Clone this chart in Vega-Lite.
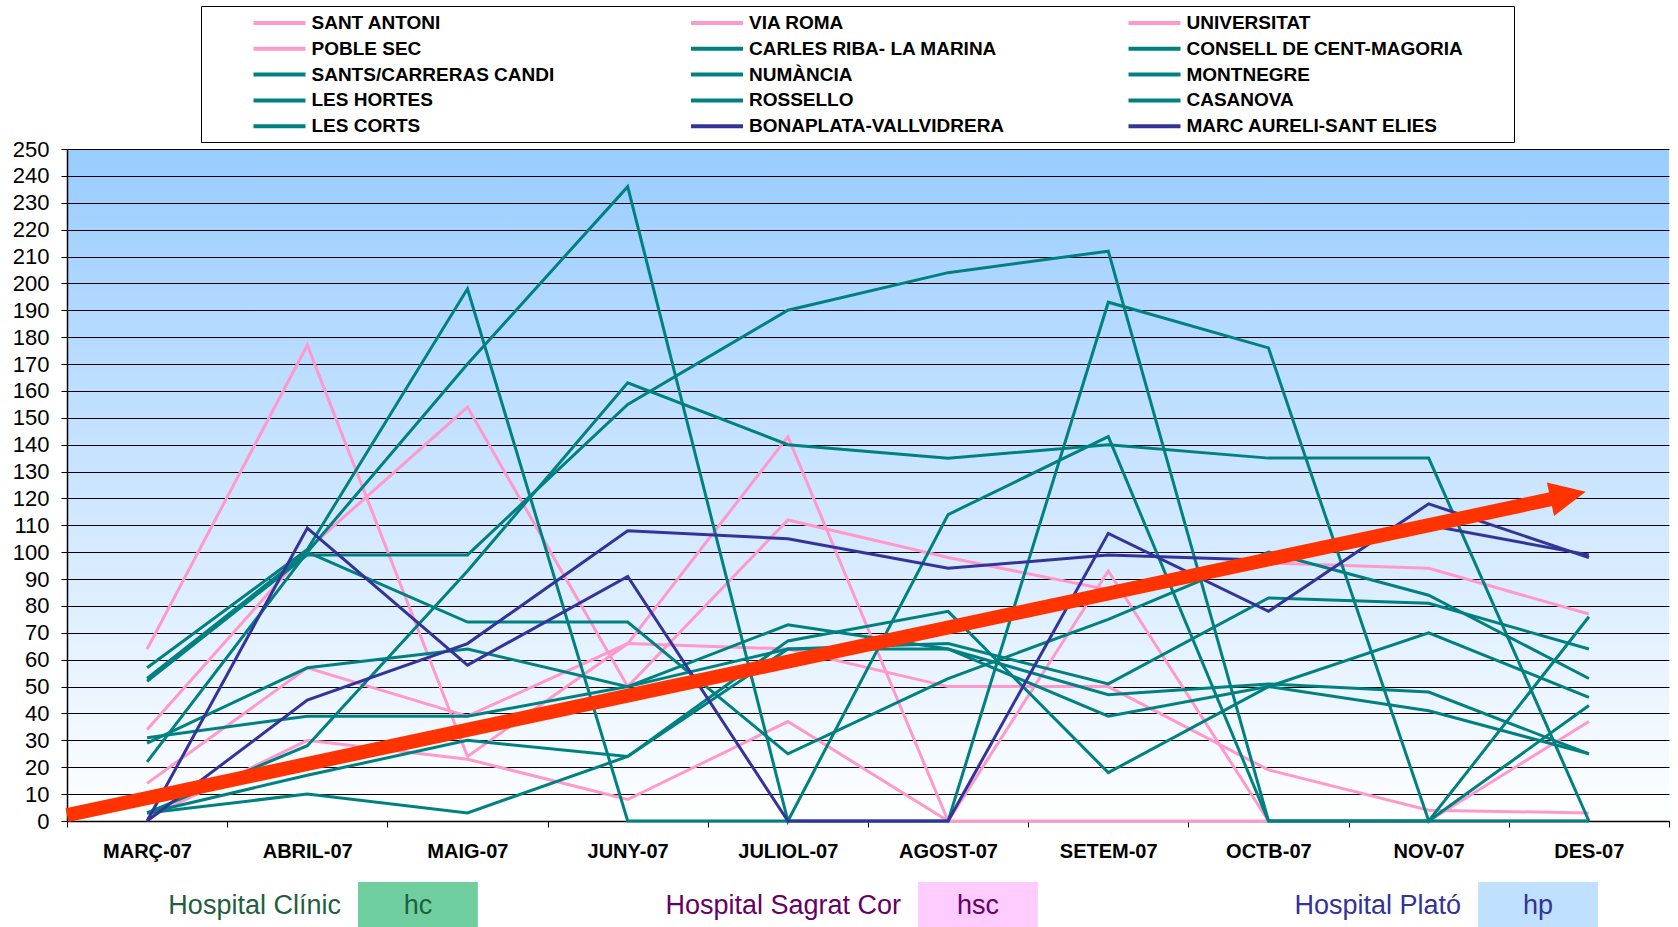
{
  "$schema": "https://vega.github.io/schema/vega-lite/v6.json",
  "autosize": {"type": "pad"},
  "padding": {"left": 12, "top": 5, "right": 8, "bottom": 0},
  "background": "white",
  "bounds": "flush",
  "spacing": 61,
  "config": {
    "view": {"stroke": null},
    "font": "Liberation Sans"
  },
  "resolve": {"scale": {"color": "independent", "fill": "independent", "x": "independent"}, "legend": {"color": "independent"}},
  "vconcat": [
    {
      "width": 1602,
      "height": 672,
      "view": {
        "stroke": null,
        "fill": {"gradient": "linear", "x1": 0, "y1": 0, "x2": 0, "y2": 1, "stops": [{"offset": 0, "color": "#99ccff"}, {"offset": 1, "color": "#ffffff"}]}
      },
      "encoding": {
        "x": {
          "field": "m", "type": "quantitative",
          "scale": {"domain": [-0.5, 9.5], "nice": false, "zero": false},
          "axis": {
            "title": null, "grid": false,
            "values": [-0.5, 0.5, 1.5, 2.5, 3.5, 4.5, 5.5, 6.5, 7.5, 8.5, 9.5],
            "labelExpr": "['MARÇ-07','ABRIL-07','MAIG-07','JUNY-07','JULIOL-07','AGOST-07','SETEM-07','OCTB-07','NOV-07','DES-07'][round(datum.value + 0.5)] || ''",
            "labelOffset": 80,
            "labelFlush": false,
            "labelOverlap": false,
            "labelFont": "Liberation Sans",
            "labelFontSize": 20,
            "labelFontWeight": "bold",
            "labelColor": "#000000",
            "labelPadding": 14,
            "tickSize": 6,
            "tickColor": "#000000",
            "domainColor": "#000000",
            "domainWidth": 1.5
          }
        },
        "y": {
          "field": "v", "type": "quantitative",
          "scale": {"domain": [0, 250], "nice": false},
          "axis": {
            "title": null,
            "values": [0,10,20,30,40,50,60,70,80,90,100,110,120,130,140,150,160,170,180,190,200,210,220,230,240,250],
            "labelOverlap": false,
            "labelFlush": false,
            "grid": true, "gridColor": "#000000", "gridWidth": 1.2,
            "labelFont": "Liberation Sans", "labelFontSize": 22, "labelColor": "#000000",
            "labelPadding": 12, "tickSize": 6, "tickColor": "#000000",
            "domainColor": "#000000", "domainWidth": 1.5
          }
        }
      },
      "layer": [
        {
          "data": {"values": [
            {"s":"SANT ANTONI","m":0,"v":64},{"s":"SANT ANTONI","m":1,"v":177},{"s":"SANT ANTONI","m":2,"v":24},{"s":"SANT ANTONI","m":3,"v":66},{"s":"SANT ANTONI","m":4,"v":143},{"s":"SANT ANTONI","m":5,"v":0},{"s":"SANT ANTONI","m":6,"v":93},{"s":"SANT ANTONI","m":7,"v":0},{"s":"SANT ANTONI","m":8,"v":0},{"s":"SANT ANTONI","m":9,"v":37},
            {"s":"VIA ROMA","m":0,"v":34},{"s":"VIA ROMA","m":1,"v":101},{"s":"VIA ROMA","m":2,"v":154},{"s":"VIA ROMA","m":3,"v":50},{"s":"VIA ROMA","m":4,"v":112},{"s":"VIA ROMA","m":5,"v":98},{"s":"VIA ROMA","m":6,"v":86},{"s":"VIA ROMA","m":7,"v":96},{"s":"VIA ROMA","m":8,"v":94},{"s":"VIA ROMA","m":9,"v":77},
            {"s":"UNIVERSITAT","m":0,"v":14},{"s":"UNIVERSITAT","m":1,"v":57},{"s":"UNIVERSITAT","m":2,"v":39},{"s":"UNIVERSITAT","m":3,"v":66},{"s":"UNIVERSITAT","m":4,"v":64},{"s":"UNIVERSITAT","m":5,"v":50},{"s":"UNIVERSITAT","m":6,"v":50},{"s":"UNIVERSITAT","m":7,"v":19},{"s":"UNIVERSITAT","m":8,"v":4},{"s":"UNIVERSITAT","m":9,"v":3},
            {"s":"POBLE SEC","m":0,"v":1},{"s":"POBLE SEC","m":1,"v":30},{"s":"POBLE SEC","m":2,"v":23},{"s":"POBLE SEC","m":3,"v":8},{"s":"POBLE SEC","m":4,"v":37},{"s":"POBLE SEC","m":5,"v":0},{"s":"POBLE SEC","m":6,"v":0},{"s":"POBLE SEC","m":7,"v":0},{"s":"POBLE SEC","m":8,"v":0},{"s":"POBLE SEC","m":9,"v":0},
            {"s":"CARLES RIBA- LA MARINA","m":0,"v":57},{"s":"CARLES RIBA- LA MARINA","m":1,"v":101},{"s":"CARLES RIBA- LA MARINA","m":2,"v":198},{"s":"CARLES RIBA- LA MARINA","m":3,"v":0},{"s":"CARLES RIBA- LA MARINA","m":4,"v":0},{"s":"CARLES RIBA- LA MARINA","m":5,"v":0},{"s":"CARLES RIBA- LA MARINA","m":6,"v":193},{"s":"CARLES RIBA- LA MARINA","m":7,"v":176},{"s":"CARLES RIBA- LA MARINA","m":8,"v":0},{"s":"CARLES RIBA- LA MARINA","m":9,"v":76},
            {"s":"CONSELL DE CENT-MAGORIA","m":0,"v":53},{"s":"CONSELL DE CENT-MAGORIA","m":1,"v":100},{"s":"CONSELL DE CENT-MAGORIA","m":2,"v":170},{"s":"CONSELL DE CENT-MAGORIA","m":3,"v":236},{"s":"CONSELL DE CENT-MAGORIA","m":4,"v":0},{"s":"CONSELL DE CENT-MAGORIA","m":5,"v":114},{"s":"CONSELL DE CENT-MAGORIA","m":6,"v":143},{"s":"CONSELL DE CENT-MAGORIA","m":7,"v":0},{"s":"CONSELL DE CENT-MAGORIA","m":8,"v":0},{"s":"CONSELL DE CENT-MAGORIA","m":9,"v":43},
            {"s":"SANTS/CARRERAS CANDI","m":0,"v":52},{"s":"SANTS/CARRERAS CANDI","m":1,"v":99},{"s":"SANTS/CARRERAS CANDI","m":2,"v":99},{"s":"SANTS/CARRERAS CANDI","m":3,"v":155},{"s":"SANTS/CARRERAS CANDI","m":4,"v":190},{"s":"SANTS/CARRERAS CANDI","m":5,"v":204},{"s":"SANTS/CARRERAS CANDI","m":6,"v":212},{"s":"SANTS/CARRERAS CANDI","m":7,"v":0},{"s":"SANTS/CARRERAS CANDI","m":8,"v":0},{"s":"SANTS/CARRERAS CANDI","m":9,"v":0},
            {"s":"NUMÀNCIA","m":0,"v":22},{"s":"NUMÀNCIA","m":1,"v":100},{"s":"NUMÀNCIA","m":2,"v":74},{"s":"NUMÀNCIA","m":3,"v":74},{"s":"NUMÀNCIA","m":4,"v":25},{"s":"NUMÀNCIA","m":5,"v":53},{"s":"NUMÀNCIA","m":6,"v":75},{"s":"NUMÀNCIA","m":7,"v":100},{"s":"NUMÀNCIA","m":8,"v":84},{"s":"NUMÀNCIA","m":9,"v":53},
            {"s":"MONTNEGRE","m":0,"v":29},{"s":"MONTNEGRE","m":1,"v":57},{"s":"MONTNEGRE","m":2,"v":64},{"s":"MONTNEGRE","m":3,"v":50},{"s":"MONTNEGRE","m":4,"v":73},{"s":"MONTNEGRE","m":5,"v":64},{"s":"MONTNEGRE","m":6,"v":47},{"s":"MONTNEGRE","m":7,"v":51},{"s":"MONTNEGRE","m":8,"v":48},{"s":"MONTNEGRE","m":9,"v":25},
            {"s":"LES HORTES","m":0,"v":31},{"s":"LES HORTES","m":1,"v":39},{"s":"LES HORTES","m":2,"v":39},{"s":"LES HORTES","m":3,"v":50},{"s":"LES HORTES","m":4,"v":64},{"s":"LES HORTES","m":5,"v":64},{"s":"LES HORTES","m":6,"v":39},{"s":"LES HORTES","m":7,"v":50},{"s":"LES HORTES","m":8,"v":41},{"s":"LES HORTES","m":9,"v":25},
            {"s":"ROSSELLO","m":0,"v":3},{"s":"ROSSELLO","m":1,"v":28},{"s":"ROSSELLO","m":2,"v":93},{"s":"ROSSELLO","m":3,"v":163},{"s":"ROSSELLO","m":4,"v":140},{"s":"ROSSELLO","m":5,"v":135},{"s":"ROSSELLO","m":6,"v":140},{"s":"ROSSELLO","m":7,"v":135},{"s":"ROSSELLO","m":8,"v":135},{"s":"ROSSELLO","m":9,"v":0},
            {"s":"CASANOVA","m":0,"v":3},{"s":"CASANOVA","m":1,"v":17},{"s":"CASANOVA","m":2,"v":30},{"s":"CASANOVA","m":3,"v":24},{"s":"CASANOVA","m":4,"v":67},{"s":"CASANOVA","m":5,"v":78},{"s":"CASANOVA","m":6,"v":18},{"s":"CASANOVA","m":7,"v":50},{"s":"CASANOVA","m":8,"v":70},{"s":"CASANOVA","m":9,"v":46},
            {"s":"LES CORTS","m":0,"v":3},{"s":"LES CORTS","m":1,"v":10},{"s":"LES CORTS","m":2,"v":3},{"s":"LES CORTS","m":3,"v":24},{"s":"LES CORTS","m":4,"v":64},{"s":"LES CORTS","m":5,"v":66},{"s":"LES CORTS","m":6,"v":51},{"s":"LES CORTS","m":7,"v":83},{"s":"LES CORTS","m":8,"v":81},{"s":"LES CORTS","m":9,"v":64},
            {"s":"BONAPLATA-VALLVIDRERA","m":0,"v":0},{"s":"BONAPLATA-VALLVIDRERA","m":1,"v":45},{"s":"BONAPLATA-VALLVIDRERA","m":2,"v":66},{"s":"BONAPLATA-VALLVIDRERA","m":3,"v":108},{"s":"BONAPLATA-VALLVIDRERA","m":4,"v":105},{"s":"BONAPLATA-VALLVIDRERA","m":5,"v":94},{"s":"BONAPLATA-VALLVIDRERA","m":6,"v":99},{"s":"BONAPLATA-VALLVIDRERA","m":7,"v":97},{"s":"BONAPLATA-VALLVIDRERA","m":8,"v":110},{"s":"BONAPLATA-VALLVIDRERA","m":9,"v":99},
            {"s":"MARC AURELI-SANT ELIES","m":0,"v":0},{"s":"MARC AURELI-SANT ELIES","m":1,"v":109},{"s":"MARC AURELI-SANT ELIES","m":2,"v":58},{"s":"MARC AURELI-SANT ELIES","m":3,"v":91},{"s":"MARC AURELI-SANT ELIES","m":4,"v":0},{"s":"MARC AURELI-SANT ELIES","m":5,"v":0},{"s":"MARC AURELI-SANT ELIES","m":6,"v":107},{"s":"MARC AURELI-SANT ELIES","m":7,"v":78},{"s":"MARC AURELI-SANT ELIES","m":8,"v":118},{"s":"MARC AURELI-SANT ELIES","m":9,"v":98}
          ]},
          "mark": {"type": "line", "strokeWidth": 3},
          "encoding": {
            "color": {
              "field": "s", "type": "nominal",
              "scale": {
                "domain": ["SANT ANTONI","POBLE SEC","SANTS/CARRERAS CANDI","LES HORTES","LES CORTS","VIA ROMA","CARLES RIBA- LA MARINA","NUMÀNCIA","ROSSELLO","BONAPLATA-VALLVIDRERA","UNIVERSITAT","CONSELL DE CENT-MAGORIA","MONTNEGRE","CASANOVA","MARC AURELI-SANT ELIES"],
                "range": ["#ff99cc","#ff99cc","#008080","#008080","#008080","#ff99cc","#008080","#008080","#008080","#333399","#ff99cc","#008080","#008080","#008080","#333399"]
              },
              "legend": {
                "title": " ", "titleOrient": "right", "titlePadding": 46, "titleFontSize": 19,
                "orient": "none", "legendX": 134, "legendY": -143,
                "columns": 3, "gridAlign": "all", "columnPadding": 54.5, "rowPadding": 3.8,
                "symbolType": "M -2.6,0 L 2.6,0", "symbolSize": 400, "symbolStrokeWidth": 4, "symbolOffset": 61.5,
                "labelFont": "Liberation Sans", "labelFontSize": 19, "labelFontWeight": "bold", "labelColor": "#000000",
                "labelOffset": 20, "labelLimit": 400,
                "padding": 5, "strokeColor": "#000000", "fillColor": "#ffffff"
              }
            }
          }
        },
        {
          "data": {"values": [{"m": -0.5, "v": 2.2}, {"m": 8.8, "v": 120.2}]},
          "mark": {"type": "line", "color": "#ff3300", "strokeWidth": 14, "strokeCap": "butt"}
        },
        {
          "data": {"values": [{"m": 8.98, "v": 122.5}]},
          "mark": {"type": "point", "shape": "M 0,0 L -2,-0.95 L -2,0.95 Z", "size": 1296, "angle": 348, "filled": true, "fill": "#ff3300", "strokeWidth": 0, "opacity": 1}
        }
      ]
    },
    {
      "width": 1602,
      "height": 47,
      "view": {"stroke": null},
      "data": {"values": [
        {"code": "hc", "name": "Hospital Clínic"},
        {"code": "hsc", "name": "Hospital Sagrat Cor"},
        {"code": "hp", "name": "Hospital Plató"}
      ]},
      "encoding": {
        "x": {"field": "code", "type": "nominal", "sort": null,
              "scale": {"type": "band", "domain": ["hc", "hsc", "hp"], "range": [291, 1531], "paddingInner": 0.786, "paddingOuter": 0},
              "axis": null}
      },
      "layer": [
        {
          "mark": {"type": "rect"},
          "encoding": {
            "fill": {"field": "code", "type": "nominal", "scale": {"domain": ["hc", "hsc", "hp"], "range": ["#6fcf9f", "#ffccff", "#c0e0ff"]}, "legend": null}
          }
        },
        {
          "mark": {"type": "text", "font": "Liberation Sans", "fontSize": 27, "baseline": "middle"},
          "encoding": {
            "text": {"field": "code"},
            "color": {"field": "code", "type": "nominal", "scale": {"domain": ["hc", "hsc", "hp"], "range": ["#1f5f3f", "#660066", "#333399"]}, "legend": null}
          }
        },
        {
          "mark": {"type": "text", "font": "Liberation Sans", "fontSize": 27, "baseline": "middle", "align": "right", "dx": -77},
          "encoding": {
            "text": {"field": "name"},
            "color": {"field": "code", "type": "nominal", "scale": {"domain": ["hc", "hsc", "hp"], "range": ["#1f5f3f", "#660066", "#333399"]}, "legend": null}
          }
        }
      ]
    }
  ]
}
